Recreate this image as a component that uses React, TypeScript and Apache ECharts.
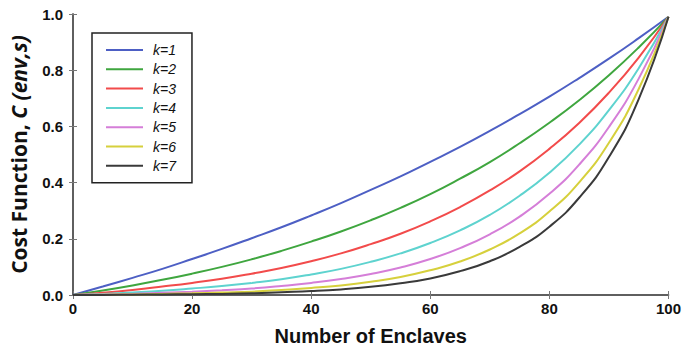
import React, { useEffect, useRef } from "react";
import * as echarts from "echarts";

const X_VALUES = [0, 5, 10, 15, 20, 25, 30, 35, 40, 45, 50, 55, 60, 65, 70, 75, 80, 85, 90, 95, 100];
const SERIES_NAMES = ["k=1", "k=2", "k=3", "k=4", "k=5", "k=6", "k=7"];
const K1 = [0, 0.030, 0.061, 0.093, 0.128, 0.164, 0.202, 0.241, 0.283, 0.327, 0.374, 0.422, 0.474, 0.527, 0.584, 0.644, 0.706, 0.772, 0.841, 0.914, 0.99];
const K2 = [0, 0.016, 0.034, 0.054, 0.076, 0.100, 0.127, 0.157, 0.190, 0.226, 0.266, 0.310, 0.359, 0.414, 0.473, 0.540, 0.613, 0.693, 0.782, 0.881, 0.99];
const K3 = [0, 0.008, 0.018, 0.030, 0.043, 0.058, 0.076, 0.096, 0.120, 0.148, 0.181, 0.218, 0.262, 0.313, 0.372, 0.440, 0.520, 0.612, 0.720, 0.845, 0.99];
const K4 = [0, 0.004, 0.009, 0.015, 0.023, 0.032, 0.043, 0.056, 0.073, 0.093, 0.118, 0.148, 0.185, 0.230, 0.285, 0.353, 0.435, 0.535, 0.658, 0.807, 0.99];
const K5 = [0, 0.002, 0.004, 0.008, 0.012, 0.017, 0.023, 0.032, 0.043, 0.057, 0.075, 0.098, 0.128, 0.167, 0.216, 0.279, 0.360, 0.464, 0.598, 0.770, 0.99];
const K6 = [0, 0.001, 0.002, 0.004, 0.006, 0.009, 0.012, 0.018, 0.025, 0.034, 0.047, 0.064, 0.088, 0.119, 0.162, 0.219, 0.297, 0.401, 0.542, 0.733, 0.99];
const K7 = [0, 0.000, 0.001, 0.002, 0.003, 0.004, 0.006, 0.010, 0.014, 0.020, 0.029, 0.042, 0.059, 0.085, 0.120, 0.171, 0.243, 0.346, 0.491, 0.697, 0.99];
const ALL_SERIES = [K1, K2, K3, K4, K5, K6, K7];
const COLORS = ["#4d5fc4", "#3fa63f", "#f24b4b", "#5ed3cf", "#d57ed8", "#d6d03c", "#3a3a3a"];

export default function App() {
  const ref = useRef<HTMLDivElement>(null);
  useEffect(() => {
    if (!ref.current) return;
    const chart = echarts.init(ref.current, null, { renderer: "svg" });
    const frame = { show: true, lineStyle: { color: "#555", width: 1.5 } };
    const inTicks = { show: true, inside: true, length: 4, lineStyle: { color: "#777" } };
    const tickFont = { fontFamily: "Liberation Sans", fontWeight: "bold" as const, fontSize: 15, color: "#111" };
    chart.setOption({
      animation: false,
      backgroundColor: "#fff",
      grid: { left: 72, right: 13, top: 14, bottom: 54 },
      legend: {
        data: SERIES_NAMES,
        orient: "vertical",
        left: 92,
        top: 33,
        padding: [10, 16, 10, 14],
        itemGap: 5.3,
        itemWidth: 37,
        itemHeight: 2,
        icon: "rect",
        borderColor: "#222",
        borderWidth: 1.5,
        backgroundColor: "#fff",
        textStyle: {
          fontFamily: "Liberation Sans",
          fontStyle: "italic",
          fontSize: 14,
          lineHeight: 14,
          color: "#111",
          padding: [0, 0, 0, 5],
        },
      },
      xAxis: [
        {
          type: "value",
          min: 0,
          max: 100,
          interval: 20,
          name: "Number of Enclaves",
          nameLocation: "middle",
          nameGap: 31,
          nameTextStyle: { fontFamily: "Liberation Sans", fontWeight: "bold", fontSize: 20, color: "#111" },
          axisLine: frame,
          axisTick: inTicks,
          axisLabel: { ...tickFont, margin: 6 },
          splitLine: { show: false },
        },
        {
          type: "value",
          position: "top",
          min: 0,
          max: 100,
          interval: 20,
          axisLine: frame,
          axisTick: inTicks,
          axisLabel: { show: false },
          splitLine: { show: false },
        },
      ],
      yAxis: [
        {
          type: "value",
          min: 0,
          max: 1,
          interval: 0.2,
          name: "{a|Cost Function, }{b|C (env,s)}",
          nameLocation: "middle",
          nameGap: 44,
          nameRotate: 90,
          nameTextStyle: {
            rich: {
              a: { fontFamily: "Open Sans", fontWeight: "bold", fontSize: 21, color: "#111" },
              b: { fontFamily: "Open Sans", fontWeight: "bold", fontStyle: "italic", fontSize: 21, color: "#111" },
            },
          },
          axisLine: frame,
          axisTick: inTicks,
          axisLabel: { ...tickFont, margin: 10, formatter: (v: number) => v.toFixed(1) },
          splitLine: { show: false },
        },
        {
          type: "value",
          position: "right",
          min: 0,
          max: 1,
          interval: 0.2,
          axisLine: frame,
          axisTick: inTicks,
          axisLabel: { show: false },
          splitLine: { show: false },
        },
      ],
      series: ALL_SERIES.map((vals, i) => ({
        name: SERIES_NAMES[i],
        type: "line",
        data: X_VALUES.map((x, j) => [x, vals[j]]),
        symbol: "none",
        smooth: true,
        lineStyle: { color: COLORS[i], width: 2 },
        itemStyle: { color: COLORS[i] },
        z: 2 + i,
      })),
    });
    return () => chart.dispose();
  }, []);
  return <div ref={ref} style={{ position: "fixed", left: 0, top: 0, width: 684, height: 351 }} />;
}
